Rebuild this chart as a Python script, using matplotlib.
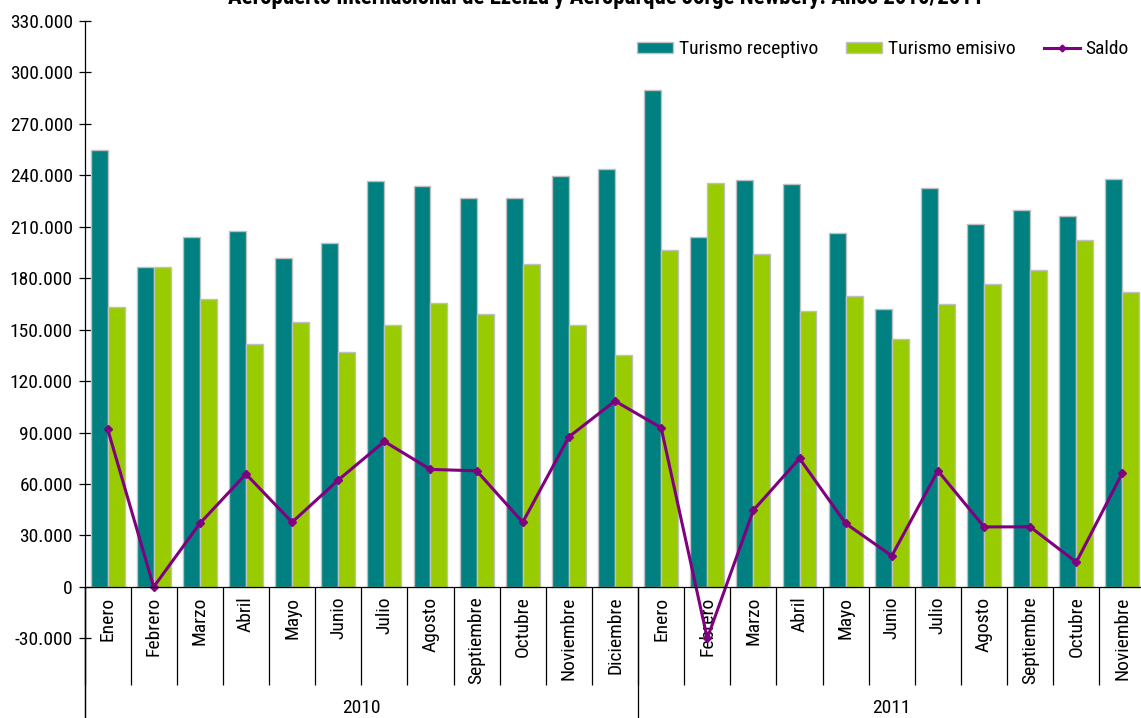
import matplotlib
matplotlib.use("Agg")
import matplotlib.pyplot as plt
import matplotlib.patches as mpatches
import matplotlib.lines as mlines
from matplotlib.ticker import FuncFormatter, FixedLocator
import numpy as np

plt.rcParams['font.family'] = ['Roboto Condensed', 'DejaVu Sans']

months = ["Enero", "Febrero", "Marzo", "Abril", "Mayo", "Junio", "Julio", "Agosto",
          "Septiembre", "Octubre", "Noviembre", "Diciembre",
          "Enero", "Febrero", "Marzo", "Abril", "Mayo", "Junio", "Julio", "Agosto",
          "Septiembre", "Octubre", "Noviembre"]
years = ["2010", "2011"]
months_per_year = [12, 11]

receptivo = [254500, 186800, 204100, 207400, 192000, 200400, 236600, 233500, 226500, 226500, 239900, 243600,
             289500, 203900, 237400, 235200, 206600, 162300, 232700, 211900, 220000, 216300, 237900]
emisivo = [163400, 186800, 168100, 141600, 154500, 137200, 152500, 165400, 159000, 188500, 152500, 135400,
           196500, 235400, 194200, 160900, 169600, 144400, 165200, 176800, 185000, 202100, 171800]
saldo = [92200, 0, 37000, 65800, 37700, 62300, 84800, 68500, 67700, 37700, 87500, 108400,
         92800, -30000, 44700, 74900, 37000, 18100, 67700, 35000, 35000, 14400, 66500]

title = "Aeropuerto Internacional de Ezeiza y Aeroparque Jorge Newbery. Años 2010/2011"

C_REC = "#008080"
C_EMI = "#99CC00"
C_SAL = "#800080"
C_EDGE = "#C0C0C0"
FS = 14

W, H = 1141, 718
fig = plt.figure(figsize=(W / 100, H / 100), dpi=100)

left_px, right_px, top_px = 84.5, 1145.5, 21.0
ax = fig.add_axes([left_px / W, 0.0, (right_px - left_px) / W, (H - top_px) / H])

ppk = 1.7133  # pixels per 1000
ymax = 330000
y_bottom = -(H - 587.0) / ppk * 1000
ax.set_ylim(y_bottom, ymax)
n = len(months)
ax.set_xlim(-0.5, n - 0.5)

x = np.arange(n)
bw = 0.368
ax.bar(x - bw / 2, receptivo, width=bw, color=C_REC, edgecolor=C_EDGE, linewidth=1.0, zorder=2)
ax.bar(x + bw / 2, emisivo, width=bw, color=C_EMI, edgecolor=C_EDGE, linewidth=1.0, zorder=2)
ax.plot(x, saldo, color=C_SAL, linewidth=2.2, marker='D', markersize=4, zorder=4, clip_on=False)

for s in ['top', 'right']:
    ax.spines[s].set_visible(False)
ax.spines['left'].set_color('black')
ax.spines['left'].set_linewidth(0.9)
ax.spines['bottom'].set_position(('data', 0))
ax.spines['bottom'].set_color('black')
ax.spines['bottom'].set_linewidth(0.9)
ax.spines['bottom'].set_zorder(5)

yt = np.arange(-30000, ymax + 1, 30000)
ax.yaxis.set_major_locator(FixedLocator(yt))
ax.yaxis.set_major_formatter(FuncFormatter(lambda v, p: f"{int(v):,}".replace(",", ".")))
ax.tick_params(axis='y', direction='inout', length=8.5, width=0.9, pad=4.2, labelsize=FS, colors='black')

ax.set_xticks(x)
ax.set_xticklabels(months, rotation=90, fontsize=FS)
ax.tick_params(axis='x', which='major', length=0, pad=7)
ax.set_xticks(np.arange(-0.5, n, 1.0), minor=True)
sep_len_pt = (685 - 587) * 0.72
ax.tick_params(axis='x', which='minor', direction='out', length=sep_len_pt, width=0.9, color='black')

start = 0
for yr, cnt in zip(years, months_per_year):
    ax.vlines(start - 0.5, y_bottom, 0, color='black', linewidth=0.9, clip_on=False, zorder=5)
    ax.text(start + (cnt - 1) / 2, -(708 - 587) / ppk * 1000, yr, ha='center', va='center', fontsize=FS)
    start += cnt
ax.vlines(start - 0.5, y_bottom, 0, color='black', linewidth=0.9, clip_on=False, zorder=5)

handles = [
    mpatches.Patch(facecolor=C_REC, edgecolor=C_EDGE, linewidth=1.0, label="Turismo receptivo"),
    mpatches.Patch(facecolor=C_EMI, edgecolor=C_EDGE, linewidth=1.0, label="Turismo emisivo"),
    mlines.Line2D([], [], color=C_SAL, linewidth=2.2, marker='D', markersize=3.5, label="Saldo"),
]
fig.legend(handles=handles, loc='center right', bbox_to_anchor=(1129 / W, 1 - 49 / H), ncol=3,
           frameon=False, fontsize=FS, handlelength=1.85, handleheight=0.5, handletextpad=0.3,
           columnspacing=1.45, borderpad=0, borderaxespad=0)

fig.text(606 / W, 1 - 4 / H, title, ha='center', va='baseline', fontsize=16.5, fontweight='bold')

fig.savefig("out.png", dpi=100)
